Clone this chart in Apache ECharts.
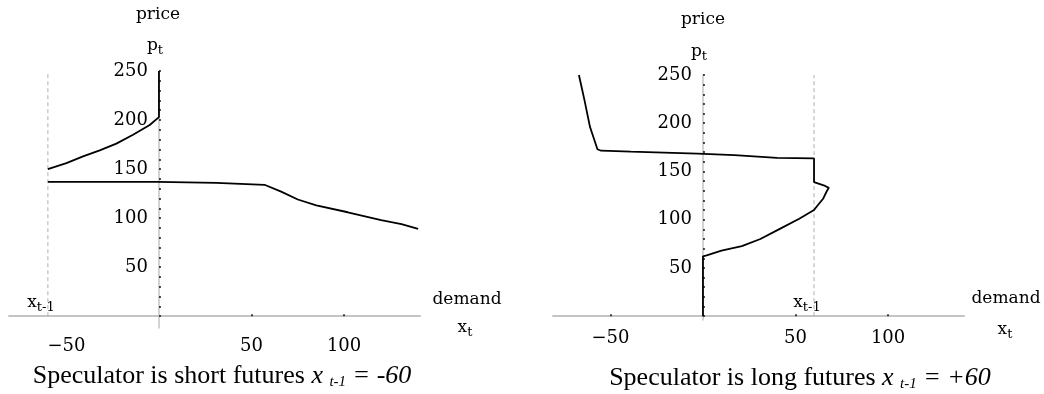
<!DOCTYPE html>
<html>
<head>
<meta charset="utf-8">
<script src="https://cdn.jsdelivr.net/npm/echarts@6/dist/echarts.min.js"></script>
<style>
html,body{margin:0;padding:0;background:#fff;}
#c{width:1044px;height:394px;}
</style>
</head>
<body>
<div id="c"></div>
<script>
// ---- data ----
var xTickLabels = [-50, 50, 100];
var yTickLabels = [50, 100, 150, 200, 250];
var yMinorTicks = [0, 10, 20, 30, 40, 50, 60, 70, 80, 90, 100, 110, 120, 130, 140, 150, 160, 170, 180, 190, 200, 210, 220, 230, 240, 250];

// Left panel: speculator short, x_{t-1} = -60
var leftPrev = -60;
var leftUpperX = [-60, -50, -41, -32, -23, -14, -5, 0, 0];
var leftUpperY = [150, 156, 163, 169, 176, 185, 195, 203, 250];
var leftLowerX = [-60, -0.5, 0, 0.5, 31, 32, 57, 66, 75, 85, 102, 120, 131, 140];
var leftLowerY = [137, 137, 139, 136, 136, 134, 134, 127, 119, 113, 106, 98, 94, 89];

// Right panel: speculator long, x_{t-1} = +60
var rightPrev = 60;
var rightX = [-67, -64, -61, -57, -55, -39, -38, -3, 17, 40, 60, 60, 61, 66, 68, 67, 65, 62, 60, 52, 41, 31, 21, 10, 2, 0, 0];
var rightY = [250, 224, 196, 173, 171.5, 170.5, 169, 168.5, 167, 164, 163.5, 139, 137, 135, 133, 130, 122, 115, 110, 101, 90, 80, 72.5, 68, 63, 62, 0];

function pairs(xs, ys) { return xs.map(function (x, i) { return [x, ys[i]]; }); }

var AX = 'DejaVu Serif, serif';
var CAP = 'Liberation Serif, Times New Roman, serif';
var axisGrey = '#c4c4c4';
var INK = '#000';
var X_MIN = -81, X_MAX = 141, GRID_W = 411;
var zeroOffset = -GRID_W * (0 - X_MIN) / (X_MAX - X_MIN); // moves y axis from grid left to x = 0

function xAxisDef(idx, ticks) {
  return {
    type: 'value', gridIndex: idx, min: X_MIN, max: X_MAX,
    axisLine: { onZero: true, lineStyle: { color: axisGrey, width: 2 } },
    axisTick: { show: true, inside: true, length: 2, customValues: ticks, lineStyle: { color: '#111', width: 1.5 } },
    axisLabel: { customValues: xTickLabels, color: INK, fontFamily: AX, fontSize: 18, margin: 9,
      formatter: function (v) { return v < 0 ? '\u2212' + Math.abs(v) : String(v); } },
    splitLine: { show: false }
  };
}
function yAxisDef(idx, min) {
  return {
    type: 'value', gridIndex: idx, min: min, max: 250, position: 'left', offset: zeroOffset,
    axisLine: { onZero: false, lineStyle: { color: axisGrey, width: 1.5 } },
    axisTick: { show: true, inside: true, length: 2, customValues: yMinorTicks, lineStyle: { color: '#111', width: 1.5 } },
    axisLabel: { customValues: yTickLabels, color: INK, fontFamily: AX, fontSize: 18, margin: 11 },
    splitLine: { show: false }
  };
}

var lineStyle = { color: '#000', width: 1.8 };
var dashStyle = { color: '#b0b0b0', width: 1, type: [4, 3] };

function txt(x, y, text) {
  return { type: 'text', silent: true, style: { text: text, x: x, y: y, align: 'center', verticalAlign: 'middle', font: '17px ' + AX, fill: INK } };
}
var subRich = {
  a: { fontFamily: AX, fontSize: 17, color: INK },
  b: { fontFamily: AX, fontSize: 13, color: INK, padding: [9, 0, 0, 0] }
};
function subTxt(x, y, main, sub) {
  return { type: 'text', silent: true, style: { x: x, y: y, align: 'center', verticalAlign: 'middle',
    text: '{a|' + main + '}{b|' + sub + '}', rich: subRich } };
}
var capRich = {
  n: { fontFamily: CAP, fontSize: 26, color: '#000' },
  i: { fontFamily: CAP, fontSize: 26, fontStyle: 'italic', color: '#000' },
  s: { fontFamily: CAP, fontSize: 15, fontStyle: 'italic', color: '#000', padding: [12, 0, 0, 0] }
};
function capTxt(x, y, a, val) {
  return { type: 'text', silent: true, style: { x: x, y: y, align: 'center', verticalAlign: 'middle',
    text: '{n|' + a + '}{i|x }{s|t-1}{i| = ' + val + '}', rich: capRich } };
}

var chart = echarts.init(document.getElementById('c'), null, { renderer: 'canvas' });
chart.setOption({
  animation: false,
  backgroundColor: '#fff',
  grid: [
    { left: 9, width: GRID_W, top: 71, height: 257, containLabel: false, outerBoundsMode: 'none' },
    { left: 553, width: GRID_W, top: 75, height: 245, containLabel: false, outerBoundsMode: 'none' }
  ],
  xAxis: [xAxisDef(0, [50, 100]), xAxisDef(1, [-50, 50, 100])],
  yAxis: [yAxisDef(0, -12), yAxisDef(1, -4)],
  series: [
    { type: 'line', xAxisIndex: 0, yAxisIndex: 0, showSymbol: false, data: [[leftPrev, 0], [leftPrev, 250]], lineStyle: dashStyle, z: 1 },
    { type: 'line', xAxisIndex: 0, yAxisIndex: 0, showSymbol: false, data: pairs(leftUpperX, leftUpperY), lineStyle: lineStyle },
    { type: 'line', xAxisIndex: 0, yAxisIndex: 0, showSymbol: false, data: pairs(leftLowerX, leftLowerY), lineStyle: lineStyle },
    { type: 'line', xAxisIndex: 1, yAxisIndex: 1, showSymbol: false, data: [[rightPrev, 0], [rightPrev, 250]], lineStyle: dashStyle, z: 1 },
    { type: 'line', xAxisIndex: 1, yAxisIndex: 1, showSymbol: false, data: pairs(rightX, rightY), lineStyle: lineStyle }
  ],
  graphic: [
    txt(158, 15, 'price'),
    subTxt(155, 46, 'p', 't'),
    txt(467, 300, 'demand'),
    subTxt(465, 328, 'x', 't'),
    subTxt(41, 303, 'x', 't-1'),
    txt(703, 20, 'price'),
    subTxt(699, 52, 'p', 't'),
    txt(1006, 299, 'demand'),
    subTxt(1005, 330, 'x', 't'),
    subTxt(807, 303, 'x', 't-1'),
    capTxt(222, 376, 'Speculator is short futures ', '-60'),
    capTxt(800, 378, 'Speculator is long futures ', '+60')
  ]
});
</script>
</body>
</html>
